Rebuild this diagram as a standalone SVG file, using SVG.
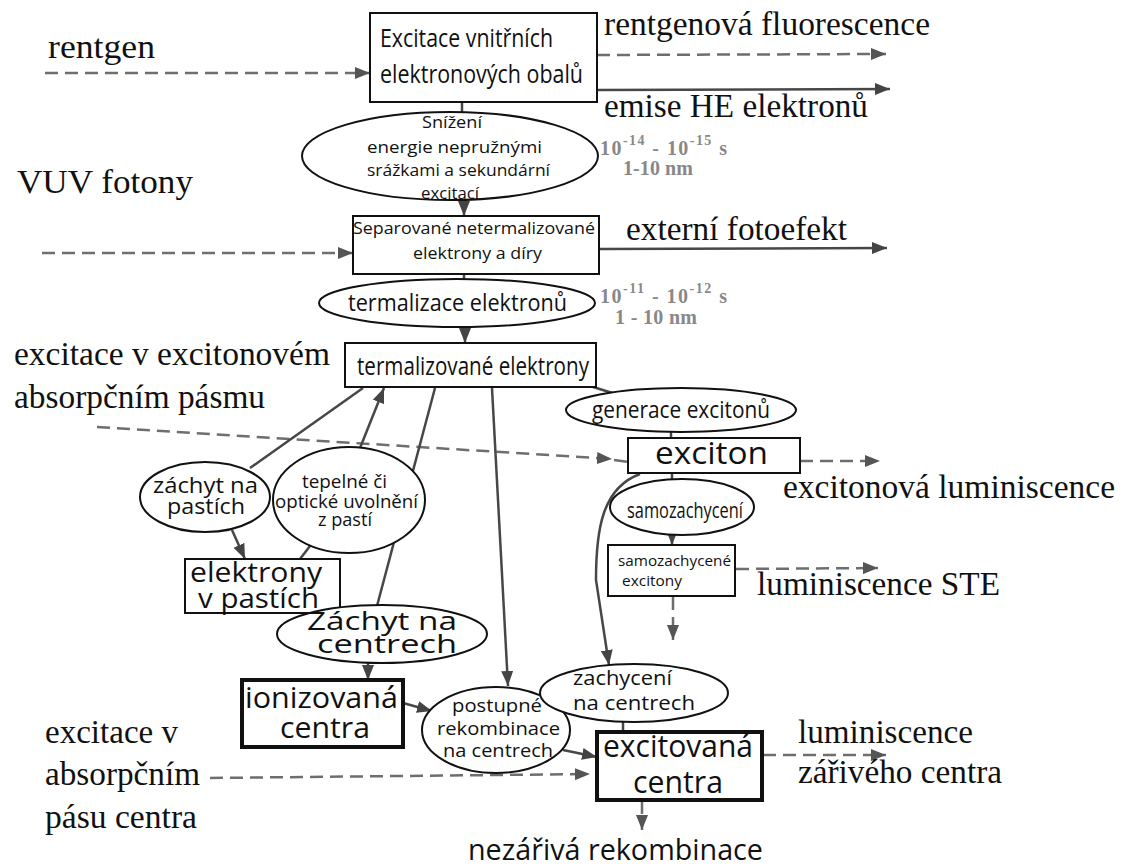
<svg xmlns="http://www.w3.org/2000/svg" width="1134" height="867" viewBox="0 0 1134 867">
<defs>
<style>
.n{font-family:"Open Sans","Noto Sans",sans-serif;fill:#111}
.s{font-family:"Liberation Serif","Times New Roman",serif;fill:#111;font-size:33px}
.g{font-family:"Liberation Serif","Times New Roman",serif;fill:#888;font-weight:bold;font-size:20px}
.b{fill:#fff;stroke:#111;stroke-width:2}
.bt{fill:#fff;stroke:#111;stroke-width:4}
.e{fill:#fff;stroke:#111;stroke-width:2}
.c{fill:none;stroke:#474747;stroke-width:2.5}
.d{fill:none;stroke:#6e6e6e;stroke-width:2.5;stroke-dasharray:13 7}
</style>
<marker id="ah" markerUnits="userSpaceOnUse" markerWidth="16" markerHeight="12" refX="15" refY="6" orient="auto"><path d="M0,0 L15,6 L0,12 z" fill="#444"/></marker>
<marker id="ahd" markerUnits="userSpaceOnUse" markerWidth="16" markerHeight="12" refX="15" refY="6" orient="auto"><path d="M0,0 L15,6 L0,12 z" fill="#555"/></marker>
</defs>
<rect width="1134" height="867" fill="#fff"/>

<g id="connectors">
<path class="d" d="M45,73 L370,73" marker-end="url(#ahd)"/>
<path class="d" d="M42,253 L353,253" marker-end="url(#ahd)"/>
<path class="d" d="M597,55 L886,54" marker-end="url(#ahd)"/>
<path class="c" d="M597,90 L890,89" marker-end="url(#ah)"/>
<path class="c" d="M599,249 L887,248" marker-end="url(#ah)"/>
<path class="c" d="M462,102 L462,112"/>
<path class="c" d="M464,200 L464,216" marker-end="url(#ah)"/>
<path class="c" d="M464,274 L464,280"/>
<path class="c" d="M465,327 L465,343" marker-end="url(#ah)"/>
<path class="c" d="M590,386 L622,396"/>
<path class="c" d="M671,432 L671,438"/>
<path class="c" d="M672,473 L672,479"/>
<path class="c" d="M672,535 L672,545" marker-end="url(#ah)"/>
<path class="d" d="M673,597 L673,640" marker-end="url(#ahd)"/>
<path class="d" d="M736,569 L878,568" marker-end="url(#ahd)"/>
<path class="d" d="M800,461 L880,461" marker-end="url(#ahd)"/>
<path class="d" d="M97,427 L612,459" marker-end="url(#ahd)" stroke-dasharray="3 10 22 9"/>
<path class="d" d="M614,460 L628,462"/>
<path class="c" d="M363,388 L250,468"/>
<path class="c" d="M232,530 L245,559" marker-end="url(#ah)"/>
<path class="c" d="M360,448 L384,388" marker-end="url(#ah)"/>
<path class="c" d="M300,559 L310,546"/>
<path class="c" d="M435,388 L377,606"/>
<path class="c" d="M492,388 L508,686" marker-end="url(#ah)"/>
<path class="c" d="M368,663 L368,680" marker-end="url(#ah)"/>
<path class="c" d="M403,703 L432,711" marker-end="url(#ah)"/>
<path class="c" d="M563,750 L597,757" marker-end="url(#ah)"/>
<path class="c" d="M623,722 L623,732"/>
<path class="c" d="M640,474 C602,488 596,530 596,580 L609,665" marker-end="url(#ah)"/>
<path class="d" d="M763,755 L886,755" marker-end="url(#ahd)"/>
<path class="d" d="M642,801 L642,830" marker-end="url(#ahd)"/>
<path class="d" d="M210,778 L590,774" marker-end="url(#ahd)"/>
</g>

<g id="n-excitace-obalu">
<rect class="b" x="370" y="13" width="227" height="89"/>
<text class="n" x="380" y="47" font-size="25" textLength="173" lengthAdjust="spacingAndGlyphs">Excitace vnitřních</text>
<text class="n" x="380" y="83" font-size="25" textLength="203" lengthAdjust="spacingAndGlyphs">elektronových obalů</text>
</g>

<g id="n-snizeni">
<ellipse class="e" cx="450" cy="156" rx="148" ry="44"/>
<text class="n" x="422" y="128" font-size="17" textLength="60" lengthAdjust="spacingAndGlyphs">Snížení</text>
<text class="n" x="367" y="153" font-size="17" textLength="175" lengthAdjust="spacingAndGlyphs">energie nepružnými</text>
<text class="n" x="367" y="176" font-size="17" textLength="183" lengthAdjust="spacingAndGlyphs">srážkami a sekundární</text>
<text class="n" x="421" y="199" font-size="17" textLength="58" lengthAdjust="spacingAndGlyphs">excitací</text>
</g>

<g id="n-separovane">
<rect class="b" x="353" y="216" width="246" height="58"/>
<text class="n" x="353" y="234" font-size="17" textLength="242" lengthAdjust="spacingAndGlyphs">Separované netermalizované</text>
<text class="n" x="413" y="259" font-size="17" textLength="129" lengthAdjust="spacingAndGlyphs">elektrony a díry</text>
</g>

<g id="n-termalizace">
<ellipse class="e" cx="457" cy="303" rx="138" ry="24"/>
<text class="n" x="348" y="311" font-size="23" textLength="219" lengthAdjust="spacingAndGlyphs">termalizace elektronů</text>
</g>

<g id="n-termalizovane">
<rect class="b" x="345" y="343" width="251" height="44"/>
<text class="n" x="357" y="375" font-size="26" textLength="232" lengthAdjust="spacingAndGlyphs">termalizované elektrony</text>
</g>

<g id="n-generace">
<ellipse class="e" cx="681" cy="410" rx="115" ry="22"/>
<text class="n" x="592" y="418" font-size="24" textLength="178" lengthAdjust="spacingAndGlyphs">generace excitonů</text>
</g>

<g id="n-exciton">
<rect class="b" x="628" y="438" width="172" height="35"/>
<text class="n" x="655" y="464" font-size="31" textLength="113" lengthAdjust="spacingAndGlyphs">exciton</text>
</g>

<g id="n-samozachyceni">
<ellipse class="e" cx="682" cy="507" rx="72" ry="28"/>
<text class="n" x="627" y="518" font-size="22" textLength="116" lengthAdjust="spacingAndGlyphs">samozachycení</text>
</g>

<g id="n-samozachycene">
<rect class="b" x="608" y="545" width="127" height="51"/>
<text class="n" x="618" y="566" font-size="15" textLength="113" lengthAdjust="spacingAndGlyphs">samozachycené</text>
<text class="n" x="622" y="586" font-size="15" textLength="60" lengthAdjust="spacingAndGlyphs">excitony</text>
</g>

<g id="n-zachyt-pastich">
<ellipse class="e" cx="205" cy="497" rx="65" ry="35"/>
<text class="n" x="153" y="493" font-size="21" textLength="105" lengthAdjust="spacingAndGlyphs">záchyt na</text>
<text class="n" x="167" y="514" font-size="21" textLength="78" lengthAdjust="spacingAndGlyphs">pastích</text>
</g>

<g id="n-tepelne">
<ellipse class="e" cx="349" cy="500" rx="76" ry="53"/>
<text class="n" x="302" y="488" font-size="19" textLength="85" lengthAdjust="spacingAndGlyphs">tepelné či</text>
<text class="n" x="275" y="508" font-size="19" textLength="143" lengthAdjust="spacingAndGlyphs">optické uvolnění</text>
<text class="n" x="318" y="526" font-size="19" textLength="54" lengthAdjust="spacingAndGlyphs">z pastí</text>
</g>

<g id="n-elektrony-pastich">
<rect class="b" x="185" y="559" width="155" height="54"/>
<text class="n" x="190" y="582" font-size="27" textLength="132" lengthAdjust="spacingAndGlyphs">elektrony</text>
<text class="n" x="198" y="608" font-size="27" textLength="121" lengthAdjust="spacingAndGlyphs">v pastích</text>
</g>

<g id="n-zachyt-centrech">
<ellipse class="e" cx="382" cy="634" rx="105" ry="29"/>
<text class="n" x="307" y="630" font-size="25" textLength="150" lengthAdjust="spacingAndGlyphs">Záchyt na</text>
<text class="n" x="317" y="653" font-size="25" textLength="140" lengthAdjust="spacingAndGlyphs">centrech</text>
</g>

<g id="n-ionizovana">
<rect class="bt" x="242" y="680" width="161" height="67"/>
<text class="n" x="245" y="708" font-size="30" textLength="153" lengthAdjust="spacingAndGlyphs">ionizovaná</text>
<text class="n" x="280" y="738" font-size="30" textLength="90" lengthAdjust="spacingAndGlyphs">centra</text>
</g>

<g id="n-postupne">
<ellipse class="e" cx="496" cy="730" rx="74" ry="43"/>
<text class="n" x="452" y="712" font-size="18" textLength="90" lengthAdjust="spacingAndGlyphs">postupné</text>
<text class="n" x="437" y="735" font-size="18" textLength="123" lengthAdjust="spacingAndGlyphs">rekombinace</text>
<text class="n" x="443" y="757" font-size="18" textLength="110" lengthAdjust="spacingAndGlyphs">na centrech</text>
</g>

<g id="n-zachyceni-centrech">
<ellipse class="e" cx="634" cy="693" rx="94" ry="29"/>
<text class="n" x="573" y="685" font-size="20" textLength="99" lengthAdjust="spacingAndGlyphs">zachycení</text>
<text class="n" x="573" y="710" font-size="20" textLength="122" lengthAdjust="spacingAndGlyphs">na centrech</text>
</g>

<g id="n-excitovana">
<rect class="bt" x="597" y="732" width="165" height="68"/>
<text class="n" x="603" y="757" font-size="31" textLength="150" lengthAdjust="spacingAndGlyphs">excitovaná</text>
<text class="n" x="633" y="793" font-size="31" textLength="90" lengthAdjust="spacingAndGlyphs">centra</text>
</g>

<g id="labels">
<text class="s" x="48" y="58" textLength="107" lengthAdjust="spacingAndGlyphs">rentgen</text>
<text class="s" x="17" y="193" textLength="176" lengthAdjust="spacingAndGlyphs">VUV fotony</text>
<text class="s" x="14" y="365" textLength="316" lengthAdjust="spacingAndGlyphs">excitace v excitonovém</text>
<text class="s" x="14" y="408" textLength="251" lengthAdjust="spacingAndGlyphs">absorpčním pásmu</text>
<text class="s" x="45" y="743" textLength="133" lengthAdjust="spacingAndGlyphs">excitace v</text>
<text class="s" x="45" y="785" textLength="155" lengthAdjust="spacingAndGlyphs">absorpčním</text>
<text class="s" x="45" y="828" textLength="152" lengthAdjust="spacingAndGlyphs">pásu centra</text>
<text class="s" x="604" y="35" textLength="326" lengthAdjust="spacingAndGlyphs">rentgenová fluorescence</text>
<text class="s" x="604" y="117" textLength="264" lengthAdjust="spacingAndGlyphs">emise HE elektronů</text>
<text class="s" x="626" y="240" textLength="221" lengthAdjust="spacingAndGlyphs">externí fotoefekt</text>
<text class="s" x="783" y="498" textLength="332" lengthAdjust="spacingAndGlyphs">excitonová luminiscence</text>
<text class="s" x="757" y="595" textLength="243" lengthAdjust="spacingAndGlyphs">luminiscence STE</text>
<text class="s" x="798" y="743" textLength="175" lengthAdjust="spacingAndGlyphs">luminiscence</text>
<text class="s" x="798" y="783" textLength="204" lengthAdjust="spacingAndGlyphs">zářivého centra</text>
<text class="n" x="468" y="860" font-size="29" textLength="295" lengthAdjust="spacingAndGlyphs">nezářivá rekombinace</text>
<text class="g" x="600" y="155" textLength="127" lengthAdjust="spacing">10<tspan dy="-10" font-size="14">-14</tspan><tspan dy="10"> - 10</tspan><tspan dy="-10" font-size="14">-15</tspan><tspan dy="10"> s</tspan></text>
<text class="g" x="623" y="175" textLength="70" lengthAdjust="spacing">1-10 nm</text>
<text class="g" x="600" y="303" textLength="127" lengthAdjust="spacing">10<tspan dy="-10" font-size="14">-11</tspan><tspan dy="10"> - 10</tspan><tspan dy="-10" font-size="14">-12</tspan><tspan dy="10"> s</tspan></text>
<text class="g" x="615" y="324" textLength="82" lengthAdjust="spacing">1 - 10 nm</text>
</g>
</svg>
